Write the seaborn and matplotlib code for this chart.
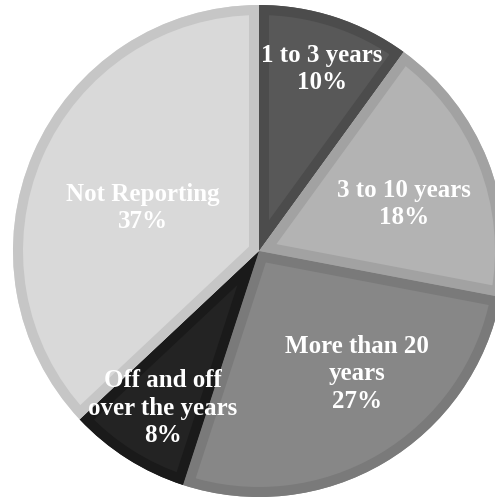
import matplotlib
matplotlib.use("Agg")
import matplotlib.pyplot as plt
from matplotlib.patches import Wedge
import seaborn as sns
import numpy as np

categories = ["1 to 3 years", "3 to 10 years", "More than 20\nyears", "Off and off\nover the years", "Not Reporting"]
values = [10, 18, 27, 8, 37]
fill_colors = ["#585858", "#b3b3b3", "#878787", "#232323", "#d9d9d9"]
edge_colors = ["#4c4c4c", "#a2a2a2", "#7a7a7a", "#1a1a1a", "#c6c6c6"]
label_radius = [0.787, 0.62, 0.636, 0.745, 0.504]
label_angle_shift = [-1.0, -3.3, 8.2, 0.8, 2.6]

sns.set_theme(style="white")
plt.rcParams["font.family"] = ["Liberation Serif", "DejaVu Serif"]

fig = plt.figure(figsize=(4.95, 5.02), dpi=100)
ax = fig.add_axes([13 / 495, 4 / 502, 492 / 495, 492 / 502])

wedges, _ = ax.pie(values, colors=fill_colors, startangle=90, counterclock=False,
                   radius=1.0, center=(0, 0), frame=False,
                   wedgeprops=dict(linewidth=0))
ax.set_xlim(-1, 1)
ax.set_ylim(-1, 1)
ax.set_aspect("equal")
ax.axis("off")

# inner bevel border: stroke clipped to each wedge
for w, ec in zip(wedges, edge_colors):
    b = Wedge(w.center, w.r, w.theta1, w.theta2, fill=False, edgecolor=ec,
              linewidth=14.4, joinstyle="miter", zorder=w.get_zorder() + 0.1)
    ax.add_patch(b)
    b.set_clip_path(w)

for w, cat, val, r, sh in zip(wedges, categories, values, label_radius, label_angle_shift):
    ang = np.deg2rad((w.theta1 + w.theta2) / 2 + sh)
    x, y = r * np.cos(ang), r * np.sin(ang)
    ax.text(x, y, f"{cat}\n{val}%", ha="center", va="center", color="white",
            fontsize=18, fontweight="bold", linespacing=1.23, zorder=5)

fig.savefig("out.png", dpi=100)
